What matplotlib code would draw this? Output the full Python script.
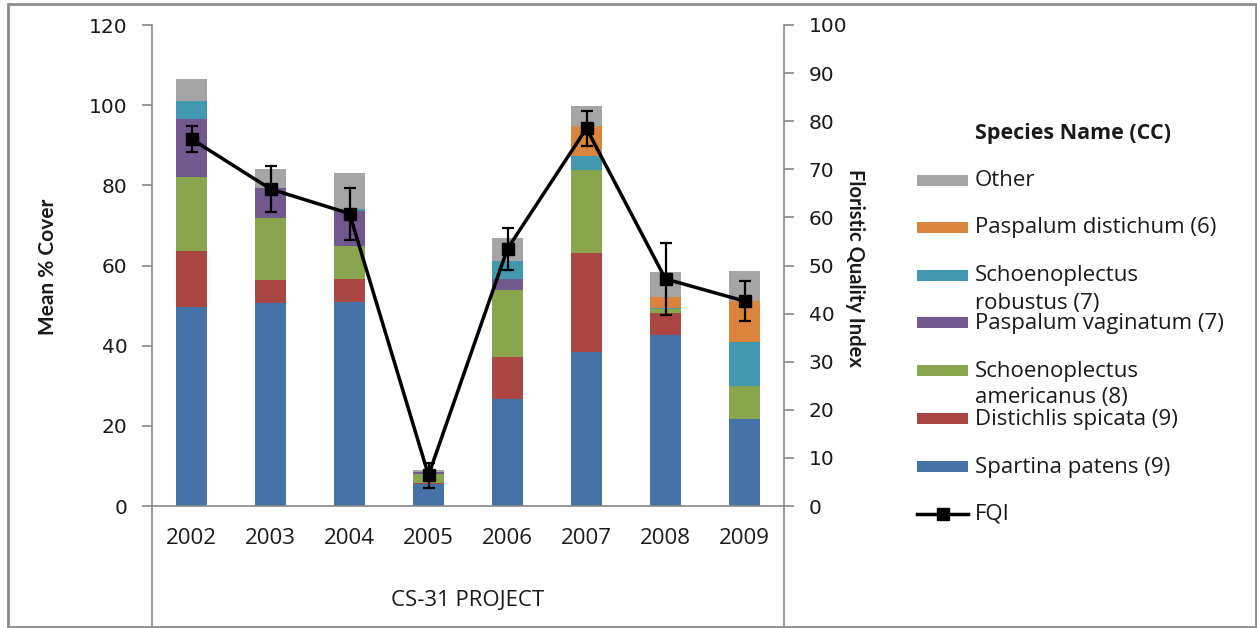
import matplotlib
matplotlib.use("Agg")
import matplotlib.pyplot as plt
from matplotlib.patches import Rectangle
from matplotlib.lines import Line2D
import numpy as np

# ---- data ----
years = ["2002", "2003", "2004", "2005", "2006", "2007", "2008", "2009"]
spartina_patens = [49.7, 50.7, 51.0, 5.5, 26.7, 38.5, 42.6, 21.7]
distichlis_spicata = [14.0, 5.8, 5.7, 0.3, 10.5, 24.5, 5.5, 0.0]
schoenoplectus_americanus = [18.3, 15.4, 8.1, 2.2, 16.7, 20.9, 1.0, 8.2]
paspalum_vaginatum = [14.5, 7.5, 8.9, 0.5, 2.7, 0.0, 0.0, 0.0]
schoenoplectus_robustus = [4.6, 0.0, 0.5, 0.0, 4.4, 3.3, 0.3, 11.1]
paspalum_distichum = [0.0, 0.0, 0.0, 0.0, 0.0, 7.6, 2.8, 10.2]
other = [5.4, 4.7, 8.8, 0.5, 5.8, 4.9, 6.1, 7.4]
fqi = [76.3, 65.9, 60.8, 6.4, 53.5, 78.5, 47.2, 42.6]
fqi_err = [2.7, 4.7, 5.4, 2.6, 4.4, 3.7, 7.5, 4.2]

series = [
    ("Spartina patens (9)", spartina_patens, "#4572A7"),
    ("Distichlis spicata (9)", distichlis_spicata, "#AA4643"),
    ("Schoenoplectus\namericanus (8)", schoenoplectus_americanus, "#89A54E"),
    ("Paspalum vaginatum (7)", paspalum_vaginatum, "#71588F"),
    ("Schoenoplectus\nrobustus (7)", schoenoplectus_robustus, "#4198AF"),
    ("Paspalum distichum (6)", paspalum_distichum, "#DB843D"),
    ("Other", other, "#A5A5A5"),
]

W, H = 1257, 628
fig = plt.figure(figsize=(W / 100, H / 100), dpi=100)
fig.patch.set_facecolor("white")

AX_COL = "#888888"
TXT = "#1a1a1a"
BODY = ["Open Sans", "DejaVu Sans"]
LABEL = ["Lato", "DejaVu Sans"]

def fx(px):
    return px / W

def fy(py):
    return 1 - py / H

x0, x1, ytop, ybot = 152, 784, 25, 506
ax = fig.add_axes([fx(x0), fy(ybot), fx(x1) - fx(x0), fy(ytop) - fy(ybot)])
ax.set_facecolor("none")

x = np.arange(len(years))
bottom = np.zeros(len(years))
for name, vals, col in series:
    vals = np.array(vals)
    ax.bar(x, vals, width=0.4, bottom=bottom, color=col, edgecolor="none", zorder=2)
    bottom += vals

ax.set_xlim(-0.5, len(years) - 0.5)
ax.set_ylim(0, 120)
ax.set_yticks(np.arange(0, 121, 20))
for s in ["top", "right"]:
    ax.spines[s].set_visible(False)
for s in ["left", "bottom"]:
    ax.spines[s].set_color(AX_COL)
    ax.spines[s].set_linewidth(1.2)
ax.tick_params(axis="y", direction="out", length=7.2, width=1.2, color=AX_COL,
               labelsize=14.5, labelcolor=TXT, pad=10.5)
ax.set_xticks(x)
ax.set_xticklabels(years, family=BODY, fontsize=16, color=TXT)
ax.tick_params(axis="x", length=0, pad=16)

# extend the axis lines down past the category labels
for xa in (0, 1):
    ax.add_line(Line2D([xa, xa], [-(627 - ybot) / (ybot - ytop), 0],
                       transform=ax.transAxes, color=AX_COL, lw=1.2, clip_on=False))

ax.text(0.5, -(601 - ybot) / (ybot - ytop), "CS-31 PROJECT", transform=ax.transAxes,
        ha="center", va="center", fontsize=16, family=BODY, color=TXT)

fig.text(fx(48), fy(267), "Mean % Cover", family=LABEL, fontweight="bold",
         fontsize=15, color=TXT, rotation=90, ha="center", va="center")

# right axis: Floristic Quality Index
ax2 = ax.twinx()
ax2.set_ylim(0, 100)
ax2.set_yticks(np.arange(0, 101, 10))
for s in ["top", "left", "bottom"]:
    ax2.spines[s].set_visible(False)
ax2.spines["right"].set_color(AX_COL)
ax2.spines["right"].set_linewidth(1.2)
ax2.tick_params(axis="y", direction="out", length=7.2, width=1.2, color=AX_COL,
                labelsize=14.5, labelcolor=TXT, pad=10.5)
ax2.errorbar(x, fqi, yerr=fqi_err, color="black", lw=2.5, marker="s", ms=8,
             ecolor="black", elinewidth=1.6, capsize=4, capthick=1.6, zorder=5)
fig.text(fx(855), fy(268), "Floristic Quality Index", family=LABEL,
         fontweight="bold", fontsize=14.5, color=TXT, rotation=-90,
         ha="center", va="center")

# legend
lx0, lx1, tx = 917, 968, 975
fig.text(fx(tx), fy(133), "Species Name (CC)", family=BODY,
         fontweight="bold", fontsize=15.5, color=TXT, va="center", ha="left")
leg_rows = [181, 228, 276, 323, 371, 419, 467]
for (name, vals, col), yy in zip(series[::-1], leg_rows):
    fig.add_artist(Rectangle((fx(lx0), fy(yy + 5)), fx(lx1) - fx(lx0), 11 / H,
                             transform=fig.transFigure, facecolor=col, edgecolor="none"))
    for k, line in enumerate(name.split("\n")):
        fig.text(fx(tx), fy(yy + 27 * k), line, family=BODY, fontsize=16,
                 color=TXT, va="center", ha="left")
fig.add_artist(Line2D([fx(lx0), fx(lx1)], [fy(514), fy(514)], transform=fig.transFigure,
                      color="black", lw=2.5))
fig.add_artist(Line2D([fx((lx0 + lx1) / 2)], [fy(514)], transform=fig.transFigure,
                      color="black", marker="s", ms=8, lw=0))
fig.text(fx(tx), fy(514), "FQI", family=BODY, fontsize=16,
         color=TXT, va="center", ha="left")

# chart border
fig.add_artist(Rectangle((fx(8), fy(627)), fx(1256) - fx(8), (627 - 4) / H,
                         transform=fig.transFigure, facecolor="none",
                         edgecolor="#8c8c8c", lw=2))

fig.savefig("out.png", dpi=100)
